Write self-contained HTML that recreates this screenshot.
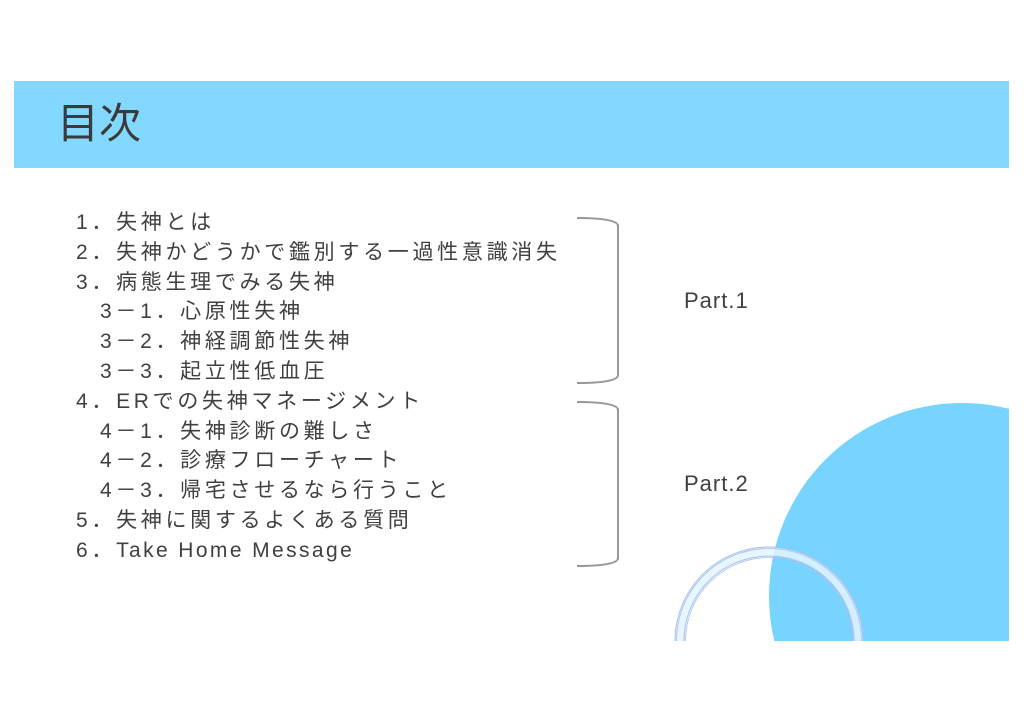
<!DOCTYPE html>
<html><head><meta charset="utf-8"><style>
html,body{margin:0;width:1024px;height:725px;overflow:hidden}
body{background:#fff;position:relative;font-family:"Liberation Sans","Noto Sans CJK JP",sans-serif;color:#404040}
.band{position:absolute;left:14px;top:81px;width:995px;height:87px;background:#83d8ff}
.title{position:absolute;left:57px;top:98px;font-size:42px;line-height:52px;color:#3a3a3a}
.list{position:absolute;left:76px;top:208px;font-size:21px;line-height:29.8px;letter-spacing:3.7px;white-space:pre}
.list div{height:29.8px}
.i{padding-left:24px}
.l{letter-spacing:2.4px}
.p{position:absolute;font-size:22px;letter-spacing:1px}
</style></head><body>
<div class="band"></div>
<div class="title">目次</div>
<svg width="1024" height="725" style="position:absolute;left:0;top:0">
<defs><clipPath id="c"><rect x="0" y="0" width="1009" height="641"/></clipPath></defs>
<g clip-path="url(#c)">
<circle cx="962" cy="596" r="193" fill="#76d4ff"/>
<circle cx="769" cy="641" r="89" fill="none" stroke="#e3f4ff" stroke-width="9" opacity="0.85"/>
<circle cx="769" cy="641" r="94" fill="none" stroke="#a8c0ec" stroke-width="1"/>
<circle cx="769" cy="641" r="92.5" fill="none" stroke="#a8c0ec" stroke-width="0.8"/>
<circle cx="769" cy="641" r="85" fill="none" stroke="#a8c0ec" stroke-width="1"/>
<circle cx="769" cy="641" r="83.5" fill="none" stroke="#a8c0ec" stroke-width="0.8"/>
</g>
<path d="M577 218 Q618 218 618 226 L618 375 Q618 383 577 383" fill="none" stroke="#999" stroke-width="2"/>
<path d="M577 402 Q618 402 618 410 L618 558 Q618 566 577 566" fill="none" stroke="#999" stroke-width="2"/>
</svg>
<div class="list"><div>1．失神とは</div><div>2．失神かどうかで鑑別する一過性意識消失</div><div>3．病態生理でみる失神</div><div class="i">3－1．心原性失神</div><div class="i">3－2．神経調節性失神</div><div class="i">3－3．起立性低血圧</div><div>4．ERでの失神マネージメント</div><div class="i">4－1．失神診断の難しさ</div><div class="i">4－2．診療フローチャート</div><div class="i">4－3．帰宅させるなら行うこと</div><div>5．失神に関するよくある質問</div><div>6．<span class="l">Take Home Message</span></div></div>
<div class="p" style="left:684px;top:288px">Part.1</div>
<div class="p" style="left:684px;top:471px">Part.2</div>
</body></html>
